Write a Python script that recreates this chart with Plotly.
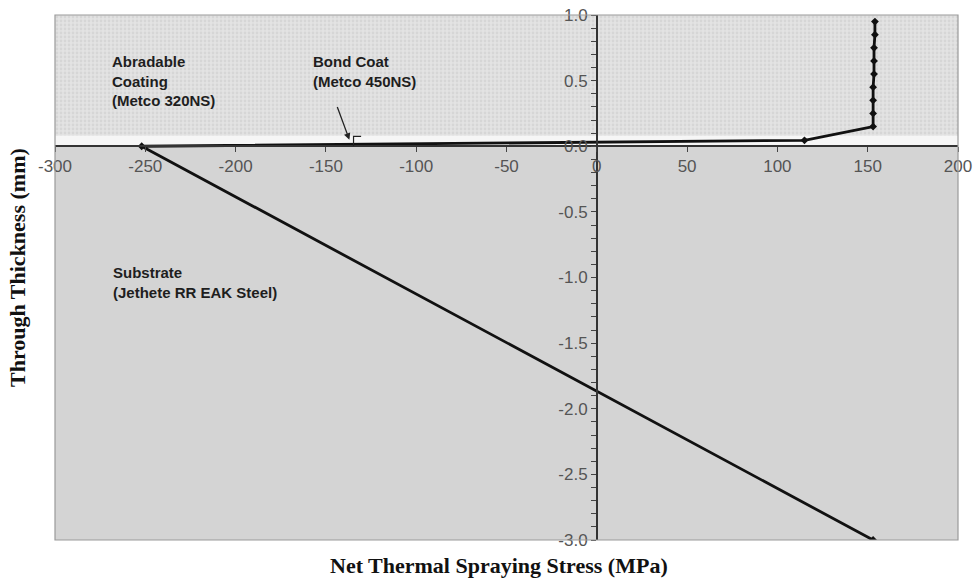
import plotly.graph_objects as go

# Net thermal spraying stress through the coated specimen
stress_mpa = [153, -252, 115, 153, 153, 153, 153, 153.5, 153.5, 153.5, 154, 154]
thickness_mm = [-3.0, 0.0, 0.045, 0.15, 0.25, 0.35, 0.45, 0.55, 0.65, 0.75, 0.85, 0.95]

x_ticks = [-300, -250, -200, -150, -100, -50, 0, 50, 100, 150, 200]
x_tick_labels = ["-300", "-250", "-200", "-150", "-100", "-50", "0", "50", "100", "150", "200"]
y_ticks = [-3.0, -2.5, -2.0, -1.5, -1.0, -0.5, 0.0, 0.5, 1.0]
y_tick_labels = ["-3.0", "-2.5", "-2.0", "-1.5", "-1.0", "-0.5", "0.0", "0.5", "1.0"]

x_range = [-300, 200]
y_range = [-3.0, 1.0]
bond_coat_top = 0.08

fig = go.Figure()

# Layer backgrounds: substrate, bond coat band, abradable coating
fig.add_shape(type="rect", xref="x", yref="y", x0=x_range[0], x1=x_range[1],
              y0=y_range[0], y1=0, fillcolor="#d4d4d4", line_width=0, layer="below")
fig.add_shape(type="rect", xref="x", yref="y", x0=x_range[0], x1=x_range[1],
              y0=0, y1=bond_coat_top, fillcolor="#f6f6f6", line_width=0, layer="below")
fig.add_trace(go.Scatter(
    x=[x_range[0], x_range[1], x_range[1], x_range[0], x_range[0]],
    y=[bond_coat_top, bond_coat_top, y_range[1], y_range[1], bond_coat_top],
    fill="toself", mode="none", fillcolor="#e0e0e0",
    fillpattern=dict(shape=".", size=4, solidity=0.4, fgcolor="#c9c9c9", bgcolor="#e3e3e3"),
    hoverinfo="skip", showlegend=False,
))

fig.add_trace(go.Scatter(
    x=stress_mpa, y=thickness_mm, mode="lines+markers",
    line=dict(color="#111111", width=2.8),
    marker=dict(symbol="diamond", size=6, color="#111111"),
    showlegend=False,
))

# Bond coat pointer and bracket
fig.add_annotation(x=-137, y=0.05, ax=-144, ay=0.31, xref="x", yref="y",
                   axref="x", ayref="y", showarrow=True, arrowhead=2,
                   arrowsize=1, arrowwidth=1.3, arrowcolor="#222222", text="")
fig.add_shape(type="path", xref="x", yref="y",
              path="M -134.7 0.0 L -134.7 0.075 L -130.5 0.075",
              line=dict(color="#222222", width=1.2))

label_font = dict(family="Liberation Sans, Arial", size=15, color="#1e1e1e")
for txt, px, py in [
    ("<b>Abradable<br>Coating<br>(Metco 320NS)</b>", 110, 51),
    ("<b>Bond Coat<br>(Metco 450NS)</b>", 311, 51),
    ("<b>Substrate<br>(Jethete RR EAK Steel)</b>", 111, 262),
]:
    fig.add_annotation(
        x=(px - 55) / 903, y=1 - (py - 15) / 525, xref="paper", yref="paper",
        text=txt, showarrow=False, xanchor="left", yanchor="top", align="left",
        font=label_font,
    )

title_font = dict(family="Liberation Serif, Times New Roman", size=22, color="#111111")
fig.add_annotation(x=(499 - 55) / 903, y=1 - (565 - 15) / 525, xref="paper", yref="paper",
                   text="<b>Net Thermal Spraying Stress (MPa)</b>", showarrow=False,
                   xanchor="center", yanchor="middle", font=title_font)
fig.add_annotation(x=(17 - 55) / 903, y=1 - (268 - 15) / 525, xref="paper", yref="paper",
                   text="<b>Through Thickness (mm)</b>", showarrow=False, textangle=-90,
                   xanchor="center", yanchor="middle", font=title_font)

# Plot frame
fig.add_shape(type="rect", xref="paper", yref="paper", x0=0, x1=1, y0=0, y1=1,
              line=dict(color="#9a9a9a", width=1.2), fillcolor="rgba(0,0,0,0)")

tick_font = dict(family="Liberation Sans, Arial", size=17, color="#555555")
fig.update_xaxes(
    range=x_range, tickmode="array", tickvals=x_ticks, ticktext=x_tick_labels,
    showgrid=False, zeroline=False, automargin=False,
    anchor="free", position=0.75, showline=True, linecolor="#333333", linewidth=1.5,
    ticks="outside", ticklen=5, tickcolor="#444444", tickfont=tick_font,
)
fig.update_yaxes(
    range=y_range, tickmode="array", tickvals=y_ticks, ticktext=y_tick_labels,
    showgrid=False, zeroline=False, automargin=False,
    anchor="free", position=0.6, showline=True, linecolor="#333333", linewidth=1.5,
    ticks="outside", ticklen=5, tickcolor="#444444", tickfont=tick_font,
    minor=dict(dtick=0.1, tick0=0, ticks="outside", ticklen=5, tickcolor="#444444"),
)

fig.update_layout(
    width=974, height=578, margin=dict(l=55, r=16, t=15, b=38),
    paper_bgcolor="white", plot_bgcolor="white",
)

fig.write_html("out.html")
